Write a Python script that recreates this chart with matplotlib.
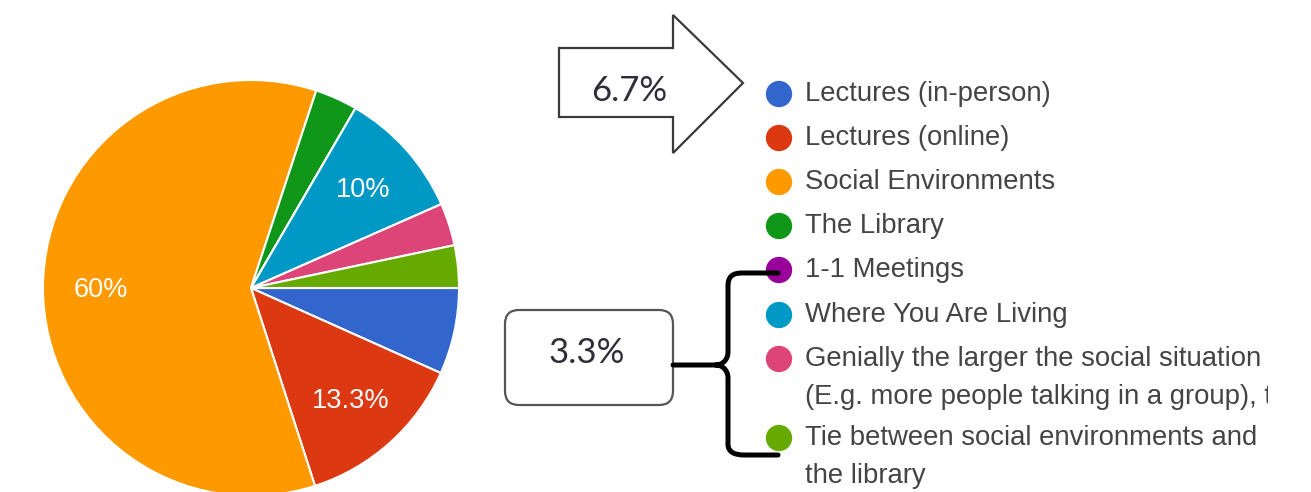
import matplotlib
matplotlib.use("Agg")
import matplotlib.pyplot as plt
import numpy as np
from matplotlib.path import Path
from matplotlib.patches import PathPatch, Polygon, FancyBboxPatch
from matplotlib.transforms import Bbox

# ---- data ----
categories = [
    "Lectures (in-person)",
    "Lectures (online)",
    "Social Environments",
    "The Library",
    "1-1 Meetings",
    "Where You Are Living",
    "Genially the larger the social situation\n(E.g. more people talking in a group), the",
    "Tie between social environments and\nthe library",
]
values = [6.7, 13.3, 60.0, 3.3, 0.0, 10.0, 3.3, 3.3]
colors = ["#3366cc", "#dc3912", "#ff9900", "#109618", "#990099",
          "#0099c6", "#dd4477", "#66aa00"]
arrow_label = "6.7%"
brace_label = "3.3%"

W, H = 1311, 492
fig = plt.figure(figsize=(W / 100, H / 100), dpi=100)
ax = fig.add_axes([0, 0, 1, 1])

cx, cy, R = 251, 288, 208
wedges, _ = ax.pie(values, colors=colors, startangle=0, counterclock=True,
                   center=(cx, cy), radius=R,
                   wedgeprops=dict(edgecolor="white", linewidth=1.5))
ax.set_xlim(0, W)
ax.set_ylim(H, 0)
ax.set_aspect("auto")
ax.axis("off")

# slice labels (only large slices)
for w, v in zip(wedges, values):
    if v >= 10:
        mid = np.deg2rad((w.theta1 + w.theta2) / 2)
        r = 0.72 * R
        ax.text(cx + r * np.cos(mid), cy + r * np.sin(mid) + 2, f"{v:g}%",
                color="white", fontsize=19.5,
                family=["Liberation Sans", "DejaVu Sans"],
                ha="center", va="center")

# legend
legend_y = [94, 138, 182, 226, 270, 315, 359, 438]
line_gap = 38
clipbox = Bbox([[0, 0], [1268, H]])
for lab, c, y in zip(categories, colors, legend_y):
    ax.scatter([779], [y], s=360, color=c, edgecolors="none", zorder=3)
    for k, line in enumerate(lab.split("\n")):
        t = ax.text(805, y + k * line_gap, line, fontsize=19.8,
                    family=["Liberation Sans", "DejaVu Sans"],
                    color="#444444", ha="left", va="center")
        t.set_clip_box(clipbox)
        t.set_clip_on(True)

# arrow callout
arrow_pts = [(559, 48), (673, 48), (673, 15), (743, 83),
             (673, 153), (673, 117), (559, 117)]
ax.add_patch(Polygon(arrow_pts, closed=True, facecolor="white",
                     edgecolor="#3a3a3a", linewidth=1.6, zorder=2))
ax.text(629, 91, arrow_label, fontsize=25, family="Lato", color="#2e2e38",
        ha="center", va="center", zorder=4)

# box callout
ax.add_patch(FancyBboxPatch((505, 310), 168, 95,
                            boxstyle="round,pad=0,rounding_size=14",
                            facecolor="white", edgecolor="#555555",
                            linewidth=1.6, zorder=2))
ax.text(587, 353, brace_label, fontsize=25, family="Lato", color="#2e2e38",
        ha="center", va="center", zorder=4)

# brace
verts = [(673, 365), (716, 365),
         (722, 365), (728, 360), (728, 352),
         (728, 286),
         (728, 277), (732, 273), (742, 273),
         (778, 273),
         (716, 365),
         (722, 365), (728, 370), (728, 378),
         (728, 444),
         (728, 452), (734, 455), (745, 455),
         (778, 455)]
codes = [Path.MOVETO, Path.LINETO,
         Path.CURVE4, Path.CURVE4, Path.CURVE4,
         Path.LINETO,
         Path.CURVE4, Path.CURVE4, Path.CURVE4,
         Path.LINETO,
         Path.MOVETO,
         Path.CURVE4, Path.CURVE4, Path.CURVE4,
         Path.LINETO,
         Path.CURVE4, Path.CURVE4, Path.CURVE4,
         Path.LINETO]
ax.add_patch(PathPatch(Path(verts, codes), facecolor="none",
                       edgecolor="black", linewidth=3.6,
                       capstyle="round", joinstyle="round", zorder=5))

fig.savefig("out.png", dpi=100)
